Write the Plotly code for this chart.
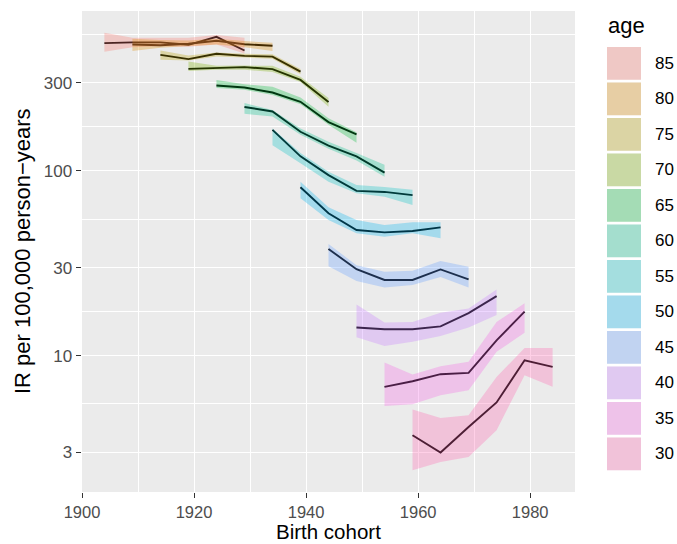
import plotly.graph_objects as go
import math

ages = [85, 80, 75, 70, 65, 60, 55, 50, 45, 40, 35, 30]
colors = ["#F8766D", "#DE8C00", "#B79F00", "#7CAE00", "#00BA38", "#00C08B",
          "#00BFC4", "#00B4F0", "#619CFF", "#C77CFF", "#F564E3", "#FF64B0"]

cohorts = [
    [1904, 1909, 1914, 1919, 1924, 1929],
    [1909, 1914, 1919, 1924, 1929, 1934],
    [1914, 1919, 1924, 1929, 1934, 1939],
    [1919, 1924, 1929, 1934, 1939, 1944],
    [1924, 1929, 1934, 1939, 1944, 1949],
    [1929, 1934, 1939, 1944, 1949, 1954],
    [1934, 1939, 1944, 1949, 1954, 1959],
    [1939, 1944, 1949, 1954, 1959, 1964],
    [1944, 1949, 1954, 1959, 1964, 1969],
    [1949, 1954, 1959, 1964, 1969, 1974],
    [1954, 1959, 1964, 1969, 1974, 1979],
    [1959, 1964, 1969, 1974, 1979, 1984],
]

ir = [
    [492, 497, 497, 482, 532, 449],
    [484, 479, 488, 507, 485, 476],
    [425, 403, 431, 420, 416, 345],
    [357, 360, 365, 356, 311, 236],
    [290, 283, 266, 237, 184, 158],
    [222, 210, 163, 137, 120, 98],
    [167, 120, 95, 78, 77, 74],
    [81.6, 59, 47.9, 46.5, 47.3, 49.5],
    [37.8, 29.4, 25.7, 25.7, 29.3, 25.9],
    [14.2, 13.9, 13.9, 14.4, 17.0, 21.0],
    [6.78, 7.27, 7.94, 8.07, 12.1, 17.3],
    [3.71, 2.99, 4.11, 5.58, 9.45, 8.69],
]

ir_lo = [
    [442, 468, 474, 470, 484, 432],
    [446, 464, 474, 484, 468, 446],
    [400, 396, 416, 411, 405, 334],
    [348, 353, 353, 343, 303, 223],
    [281, 275, 258, 230, 178, 142],
    [204, 197, 157, 132, 114, 93],
    [138, 110, 87.5, 75.7, 72.6, 65.4],
    [71.1, 54.3, 46.0, 44.0, 46.0, 43.2],
    [30.5, 25.4, 23.4, 24.1, 26.7, 23.4],
    [12.6, 11.3, 11.9, 12.8, 14.2, 16.6],
    [5.34, 5.46, 6.11, 6.50, 10.5, 13.3],
    [2.40, 2.66, 2.83, 3.95, 7.84, 6.78],
]

ir_hi = [
    [560, 526, 526, 526, 545, 526],
    [519, 511, 508, 519, 505, 494],
    [449, 422, 438, 431, 429, 356],
    [391, 371, 372, 371, 324, 248],
    [311, 295, 286, 250, 193, 162],
    [233, 214, 170, 144, 125, 108],
    [170, 125, 99, 84, 82, 79],
    [87.5, 63.6, 54.3, 51.0, 52.7, 52.7],
    [40.2, 30.9, 28.5, 28.8, 32.6, 30.3],
    [18.9, 15.1, 15.2, 17.1, 18.0, 22.8],
    [9.19, 7.91, 8.77, 9.26, 15.2, 19.2],
    [5.11, 4.60, 4.76, 7.67, 11.0, 11.0],
]

y_breaks = [3, 10, 30, 100, 300]
x_breaks = [1900, 1920, 1940, 1960, 1980]

FONT = "Liberation Sans, Arial, sans-serif"
ALPHA = 0.3


def rgba(hexcol, a):
    h = hexcol.lstrip("#")
    r, g, b = int(h[0:2], 16), int(h[2:4], 16), int(h[4:6], 16)
    return f"rgba({r},{g},{b},{a})"


fig = go.Figure()

# lines (black) first, ribbons drawn over them with alpha
for a, xs, ys in zip(ages, cohorts, ir):
    fig.add_trace(go.Scatter(x=xs, y=ys, mode="lines",
                             line=dict(color="black", width=1.9),
                             showlegend=False, hoverinfo="skip"))

for a, col, xs, lo, hi in zip(ages, colors, cohorts, ir_lo, ir_hi):
    fig.add_trace(go.Scatter(x=xs + xs[::-1], y=hi + lo[::-1], mode="lines",
                             fill="toself", fillcolor=rgba(col, ALPHA),
                             line=dict(width=0, color="rgba(0,0,0,0)"),
                             showlegend=False, hoverinfo="skip", name=str(a)))

# minor breaks: geometric midpoints between major breaks (ggplot style)
ext = [1] + y_breaks + [1000]
y_minor = [math.sqrt(ext[i] * ext[i + 1]) for i in range(len(ext) - 1)]

W, H = 677, 544
ml, mr, mt, mb = 82, 102, 11, 52

fig.update_layout(
    width=W, height=H, autosize=False,
    margin=dict(l=ml, r=mr, t=mt, b=mb, pad=0),
    paper_bgcolor="white", plot_bgcolor="#EBEBEB",
    font=dict(family=FONT, color="black"),
    showlegend=False,
    xaxis=dict(
        range=[1900, 1988], tickmode="array", tickvals=x_breaks,
        ticks="outside", ticklen=5, tickwidth=1.1, tickcolor="#333333",
        tickfont=dict(size=16.5, color="#4D4D4D", family=FONT),
        showgrid=True, gridcolor="white", gridwidth=1.4,
        zeroline=False, showline=False, automargin=False,
        minor=dict(dtick=10, tick0=1900, showgrid=True, gridcolor="white",
                   gridwidth=0.7, ticks=""),
    ),
    yaxis=dict(
        type="log", range=[0.262, 2.866], tickmode="array",
        tickvals=y_breaks, ticktext=[str(v) for v in y_breaks],
        ticks="outside", ticklen=5.5, tickwidth=1.1, tickcolor="#333333",
        tickfont=dict(size=17, color="#4D4D4D", family=FONT),
        showgrid=True, gridcolor="white", gridwidth=1.4,
        zeroline=False, showline=False, automargin=False,
        minor=dict(tickmode="array", tickvals=y_minor, showgrid=True,
                   gridcolor="white", gridwidth=0.7, ticks=""),
    ),
)

# pixel -> paper helpers for titles and the manual ggplot-style legend
pw = W - ml - mr
ph = H - mt - mb


def px_x(p):
    return (p - ml) / pw


def px_y(p):
    return (H - mb - p) / ph


shapes = []
annotations = [
    dict(xref="paper", yref="paper", x=px_x(328), y=px_y(544),
         xanchor="center", yanchor="bottom", text="Birth cohort",
         showarrow=False, borderpad=0,
         font=dict(size=20.5, color="black", family=FONT)),
    dict(xref="paper", yref="paper", x=px_x(22), y=px_y(251),
         xanchor="center", yanchor="middle", textangle=-90,
         text="IR per 100,000 person\u2212years",
         showarrow=False, font=dict(size=22, color="black", family=FONT)),
    dict(xref="paper", yref="paper", x=px_x(606), y=px_y(25),
         xanchor="left", yanchor="middle", text="age",
         showarrow=False, font=dict(size=22, color="black", family=FONT)),
]
key_top0, key_h, key_pitch = 47, 32.7, 35.5
for i, (a, col) in enumerate(zip(ages, colors)):
    t = key_top0 + i * key_pitch
    b = t + key_h
    for fc in ("#EBEBEB", rgba(col, ALPHA)):
        shapes.append(dict(type="rect", xref="paper", yref="paper",
                           x0=px_x(607), x1=px_x(641), y0=px_y(b), y1=px_y(t),
                           fillcolor=fc, line=dict(width=0), layer="above"))
    annotations.append(dict(xref="paper", yref="paper", x=px_x(653),
                            y=px_y((t + b) / 2), xanchor="left", yanchor="middle",
                            text=str(a), showarrow=False,
                            font=dict(size=17, color="black", family=FONT)))

fig.update_layout(shapes=shapes, annotations=annotations)

fig.write_html("out.html")
